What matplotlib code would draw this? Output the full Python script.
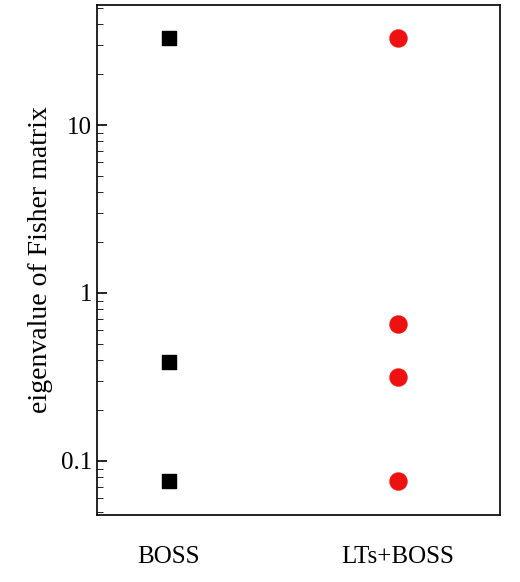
import matplotlib
matplotlib.use("Agg")
import matplotlib.pyplot as plt

plt.rcParams['font.family'] = 'serif'
plt.rcParams['font.serif'] = ['Liberation Serif', 'Times New Roman', 'DejaVu Serif']

categories = ['BOSS', 'LTs+BOSS']
boss_vals = [33, 0.39, 0.076]
lts_vals = [33, 0.65, 0.316, 0.076]

fig = plt.figure(figsize=(5.2, 5.82), dpi=100)
ax = fig.add_axes([97/520, 1-515/582, 403/520, 510/582])

ax.scatter([0]*len(boss_vals), boss_vals, marker='s', s=110, color='black', zorder=3)
ax.scatter([1]*len(lts_vals), lts_vals, marker='o', s=150, color='#ee1111', zorder=3)

ax.set_yscale('log')
ax.set_ylim(0.0477, 51.8)
ax.set_xlim(-0.314, 1.445)
ax.set_yticks([0.1, 1, 10])
ax.set_yticklabels(['0.1', '1', '10'], fontsize=18)
ax.set_xticks([0, 1])
ax.set_xticklabels(categories, fontsize=18)
ax.tick_params(axis='x', length=0, pad=22)
ax.tick_params(axis='y', which='major', direction='in', length=7, width=1.2)
ax.tick_params(axis='y', which='minor', direction='in', length=4)
ax.set_ylabel('eigenvalue of Fisher matrix', fontsize=20, labelpad=6)
for s in ax.spines.values():
    s.set_linewidth(1.2)

fig.savefig('out.png', dpi=100)
